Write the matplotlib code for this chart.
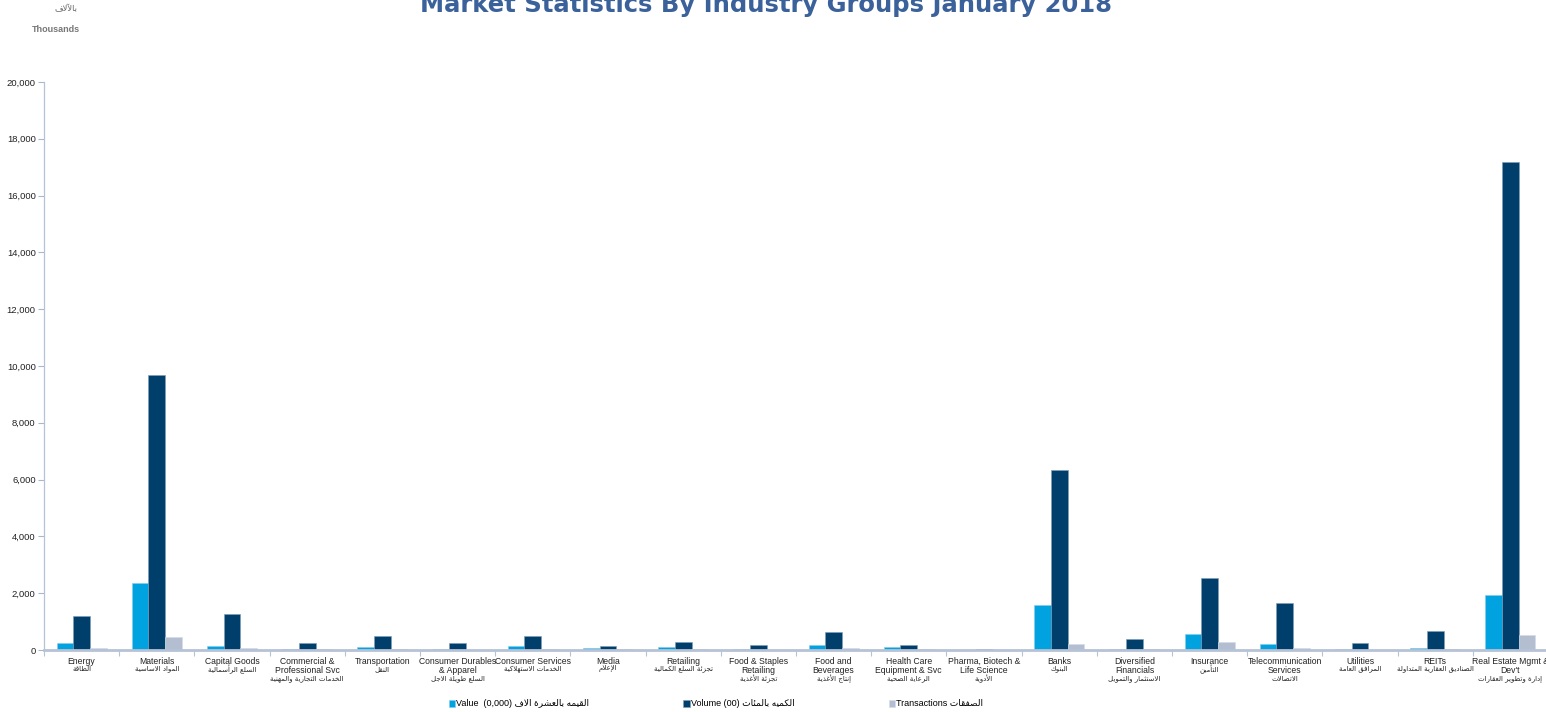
import matplotlib
matplotlib.use("Agg")
import matplotlib.pyplot as plt
import numpy as np
from matplotlib.ticker import FuncFormatter, FixedLocator

# ---------------- data ----------------
categories_en = [
    "Energy", "Materials", "Capital Goods", "Commercial &\nProfessional Svc",
    "Transportation", "Consumer Durables\n& Apparel", "Consumer Services", "Media",
    "Retailing", "Food & Staples\nRetailing", "Food and\nBeverages",
    "Health Care\nEquipment & Svc", "Pharma, Biotech &\nLife Science", "Banks",
    "Diversified\nFinancials", "Insurance", "Telecommunication\nServices",
    "Utilities", "REITs", "Real Estate Mgmt &\nDev't",
]
categories_ar = [
    "الطاقة", "المواد الاساسية", "السلع الرأسمالية", "الخدمات التجارية والمهنية",
    "النقل", "السلع طويلة الاجل", "الخدمات الاستهلاكية", "الإعلام",
    "تجزئة السلع الكمالية", "تجزئة الأغذية", "إنتاج الأغذية", "الرعاية الصحية",
    "الأدوية", "البنوك", "الاستثمار والتمويل", "التأمين", "الاتصالات",
    "المرافق العامة", "الصناديق العقارية المتداولة", "إدارة وتطوير العقارات",
]
value = [250, 2350, 150, 50, 100, 20, 150, 60, 90, 40, 190, 90, 10, 1600,
         40, 570, 210, 50, 70, 1950]
volume = [1180, 9700, 1270, 260, 480, 230, 510, 140, 290, 190, 620, 190, 40,
          6330, 390, 2550, 1670, 250, 660, 17200]
transactions = [80, 450, 80, 20, 20, 10, 50, 20, 30, 10, 80, 20, 5, 200,
                20, 290, 70, 10, 40, 520]
series_labels = [("Value  (0,000) ", "القيمه بالعشرة الاف"),
                 ("Volume (00) ", "الكميه بالمئات"),
                 ("Transactions ", "الصفقات")]
title = "Market Statistics By Industry Groups January 2018"

# ---------------- minimal Arabic shaping ----------------
_FORMS = {  # iso, fin, ini, med
    'ء': (0xFE80, None, None, None),
    'آ': (0xFE81, 0xFE82, None, None), 'أ': (0xFE83, 0xFE84, None, None),
    'ؤ': (0xFE85, 0xFE86, None, None), 'إ': (0xFE87, 0xFE88, None, None),
    'ئ': (0xFE89, 0xFE8A, 0xFE8B, 0xFE8C), 'ا': (0xFE8D, 0xFE8E, None, None),
    'ب': (0xFE8F, 0xFE90, 0xFE91, 0xFE92), 'ة': (0xFE93, 0xFE94, None, None),
    'ت': (0xFE95, 0xFE96, 0xFE97, 0xFE98), 'ث': (0xFE99, 0xFE9A, 0xFE9B, 0xFE9C),
    'ج': (0xFE9D, 0xFE9E, 0xFE9F, 0xFEA0), 'ح': (0xFEA1, 0xFEA2, 0xFEA3, 0xFEA4),
    'خ': (0xFEA5, 0xFEA6, 0xFEA7, 0xFEA8), 'د': (0xFEA9, 0xFEAA, None, None),
    'ذ': (0xFEAB, 0xFEAC, None, None), 'ر': (0xFEAD, 0xFEAE, None, None),
    'ز': (0xFEAF, 0xFEB0, None, None), 'س': (0xFEB1, 0xFEB2, 0xFEB3, 0xFEB4),
    'ش': (0xFEB5, 0xFEB6, 0xFEB7, 0xFEB8), 'ص': (0xFEB9, 0xFEBA, 0xFEBB, 0xFEBC),
    'ض': (0xFEBD, 0xFEBE, 0xFEBF, 0xFEC0), 'ط': (0xFEC1, 0xFEC2, 0xFEC3, 0xFEC4),
    'ظ': (0xFEC5, 0xFEC6, 0xFEC7, 0xFEC8), 'ع': (0xFEC9, 0xFECA, 0xFECB, 0xFECC),
    'غ': (0xFECD, 0xFECE, 0xFECF, 0xFED0), 'ف': (0xFED1, 0xFED2, 0xFED3, 0xFED4),
    'ق': (0xFED5, 0xFED6, 0xFED7, 0xFED8), 'ك': (0xFED9, 0xFEDA, 0xFEDB, 0xFEDC),
    'ل': (0xFEDD, 0xFEDE, 0xFEDF, 0xFEE0), 'م': (0xFEE1, 0xFEE2, 0xFEE3, 0xFEE4),
    'ن': (0xFEE5, 0xFEE6, 0xFEE7, 0xFEE8), 'ه': (0xFEE9, 0xFEEA, 0xFEEB, 0xFEEC),
    'و': (0xFEED, 0xFEEE, None, None), 'ى': (0xFEEF, 0xFEF0, None, None),
    'ي': (0xFEF1, 0xFEF2, 0xFEF3, 0xFEF4),
}
_LAMALEF = {'آ': (0xFEF5, 0xFEF6), 'أ': (0xFEF7, 0xFEF8),
            'إ': (0xFEF9, 0xFEFA), 'ا': (0xFEFB, 0xFEFC)}


def shape_ar(text):
    units = []
    i = 0
    while i < len(text):
        c = text[i]
        if c == 'ل' and i + 1 < len(text) and text[i + 1] in _LAMALEF:
            units.append(('LA', text[i + 1]))
            i += 2
        else:
            units.append(('C', c))
            i += 1

    def dual(u):
        if u is None or u[0] == 'LA':
            return False
        f = _FORMS.get(u[1])
        return f is not None and f[2] is not None

    def arabic(u):
        return u is not None and (u[0] == 'LA' or u[1] in _FORMS)

    out = []
    for k, u in enumerate(units):
        prev = units[k - 1] if k > 0 else None
        nxt = units[k + 1] if k + 1 < len(units) else None
        jp = arabic(u) and dual(prev)
        if u[0] == 'LA':
            out.append(chr(_LAMALEF[u[1]][1] if jp else _LAMALEF[u[1]][0]))
            continue
        f = _FORMS.get(u[1])
        if f is None:
            out.append(u[1])
            continue
        jn = f[2] is not None and arabic(nxt) and nxt[1] != 'ء'
        if jp and jn:
            out.append(chr(f[3]))
        elif jp:
            out.append(chr(f[1]) if f[1] else chr(f[0]))
        elif jn:
            out.append(chr(f[2]))
        else:
            out.append(chr(f[0]))
    return ''.join(out)[::-1]


# ---------------- figure ----------------
W, H = 1546, 712
fig = plt.figure(figsize=(W / 100, H / 100), dpi=100)
ax_left, ax_right = 44 / W, 1548 / W
ax_bottom, ax_top = (H - 650) / H, (H - 82) / H
ax = fig.add_axes([ax_left, ax_bottom, ax_right - ax_left, ax_top - ax_bottom])

c_val, c_vol, c_tr = "#00A3E0", "#003F6B", "#B3BED0"
n = len(categories_en)
x = np.arange(n)
bw = 0.222
b1 = ax.bar(x - bw, value, bw, color=c_val, edgecolor="#7FCBEF", linewidth=0.4)
b2 = ax.bar(x, volume, bw, color=c_vol, edgecolor="#7F9DB5", linewidth=0.4)
b3 = ax.bar(x + bw, transactions, bw, color=c_tr, edgecolor="#D5DCE7", linewidth=0.4)

ax.set_xlim(-0.5, n - 0.5)
ax.set_ylim(0, 20000)
ax.set_yticks(np.arange(0, 20001, 2000))
ax.yaxis.set_major_formatter(FuncFormatter(lambda v, p: f"{int(v):,}"))
ax.tick_params(axis='y', labelsize=6.8, colors="#A9B7CE", labelcolor="#222222",
               length=4, width=0.8, pad=2)
for lab in ax.get_yticklabels():
    lab.set_fontfamily("Liberation Sans")

spine_c = "#B6C2D6"
for s in ("top", "right"):
    ax.spines[s].set_visible(False)
ax.spines["left"].set_color(spine_c)
ax.spines["left"].set_linewidth(0.9)
ax.spines["bottom"].set_color(spine_c)
ax.spines["bottom"].set_linewidth(2.0)

ax.set_xticks(x)
ax.set_xticklabels(categories_en, fontsize=6.2, color="#222222", linespacing=1.05,
                   fontfamily="Liberation Sans")
ax.tick_params(axis='x', which='major', length=0, pad=5)
ax.xaxis.set_minor_locator(FixedLocator(np.arange(-0.5, n, 1.0)))
ax.tick_params(axis='x', which='minor', length=4, width=0.8, colors=spine_c)
# keep the last (edge) label inside the picture
ax.get_xticklabels()[-1].set_x(n - 1.03)

# Arabic sub-labels below English labels
trans = ax.get_xaxis_transform()
px = 1.0 / (ax_top - ax_bottom) / H
for i, (en, ar) in enumerate(zip(categories_en, categories_ar)):
    nl = en.count("\n") + 1
    ypix = 664.5 + 9.6 * (nl - 1) + 4.5
    ax.text(i, -(ypix - 650) * px, shape_ar(ar), transform=trans, ha='center',
            va='center', fontsize=5.0, color="#222222", fontfamily="DejaVu Sans")

# Title and unit labels
fig.text(766 / W, 1 - 12 / H, title, ha='center', va='baseline', fontsize=17.5,
         fontweight='bold', color="#3A619A", fontfamily="DejaVu Sans")
fig.text(66 / W, 1 - 9 / H, shape_ar("بالآلاف"), ha='center', va='center',
         fontsize=6, color="#666666", fontfamily="DejaVu Sans")
fig.text(56 / W, 1 - 29 / H, "Thousands", ha='center', va='center',
         fontsize=6.5, color="#777777", fontweight='bold', fontfamily="Liberation Sans")

# Legend
labels = [en + shape_ar(ar) for en, ar in series_labels]
leg = fig.legend([b1, b2, b3], labels, loc='center', bbox_to_anchor=(716 / W, 1 - 704 / H),
                 ncol=3, frameon=False, handlelength=0.7,
                 handleheight=0.7, handletextpad=0.15, columnspacing=10.4,
                 prop={'family': ['Liberation Sans', 'DejaVu Sans'], 'size': 6.5})

fig.savefig("out.png", dpi=100)
